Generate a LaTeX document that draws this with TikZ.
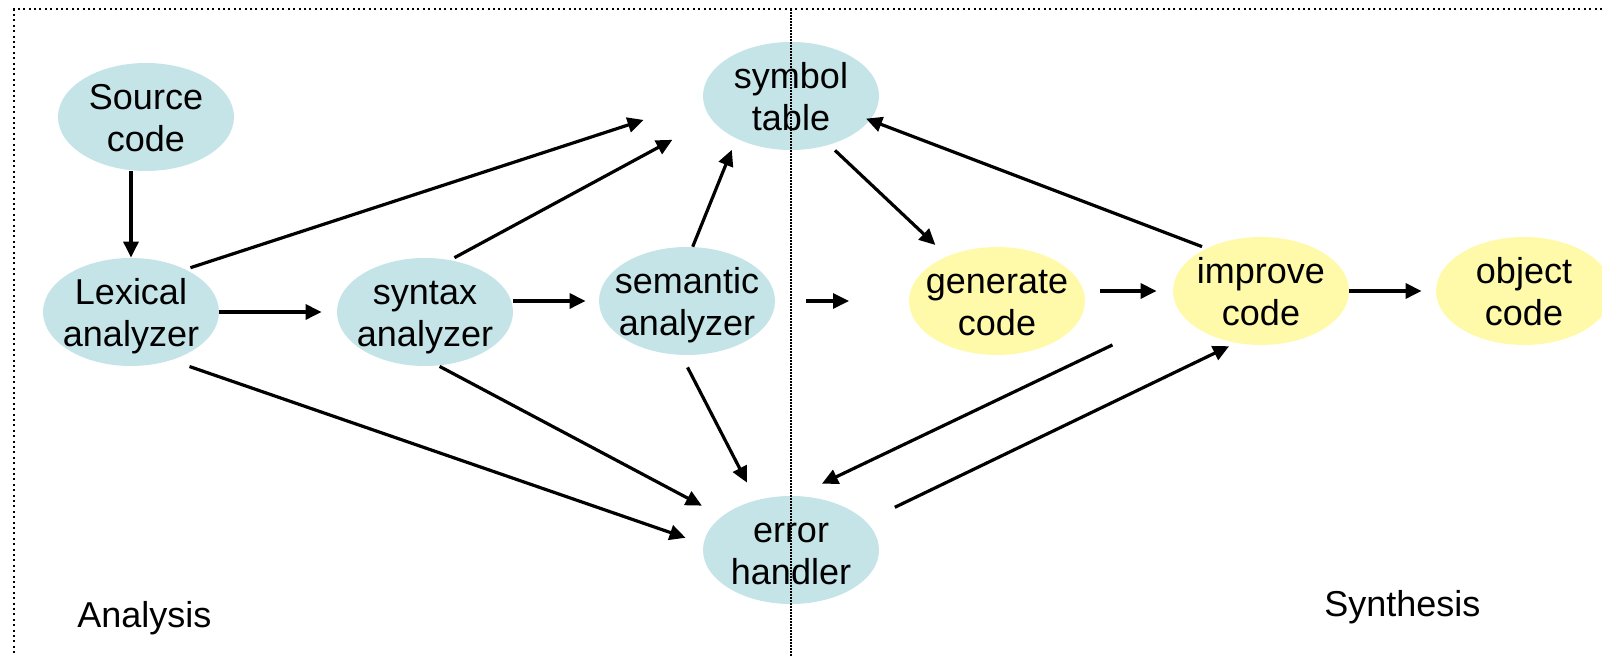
\documentclass[tikz,border=0pt]{standalone}
\usepackage{fontspec}
\setmainfont{Liberation Sans}
\usetikzlibrary{arrows.meta,shapes.geometric}
\definecolor{phaseblue}{RGB}{196,228,232}
\definecolor{phaseyellow}{RGB}{255,250,170}
% two-line label with fixed line heights, so every label sits alike
\newcommand\twoline[2]{\rule{0pt}{19pt}#1\\#2\rule[-5pt]{0pt}{5pt}}
\tikzset{
  phase/.style={ellipse, minimum width=88pt, minimum height=54pt, inner sep=-12pt,
    align=center, font=\fontsize{18}{21}\selectfont},
  front/.style={phase, fill=phaseblue},
  back/.style={phase, fill=phaseyellow},
  flow/.style={line width=1.6pt, -{Triangle[length=8pt,width=7.5pt]}},
  frame/.style={line width=1pt, dash pattern=on 1pt off 1.7pt},
  divider/.style={line width=0.9pt, dash pattern=on 1pt off 0.5pt},
  caption/.style={anchor=base west, inner sep=0pt, font=\fontsize{18}{21}\selectfont}
}
\begin{document}
\begin{tikzpicture}[x=0.5pt,y=-0.5pt]
\path[use as bounding box] (0,0) rectangle (1602,656);

% analysis phases
\node[front] (src) at (146,117) {\twoline{Source}{code}};
\node[front] (lex) at (131,312) {\twoline{Lexical}{analyzer}};
\node[front] (syn) at (425,312) {\twoline{syntax}{analyzer}};
\node[front] (sem) at (687,301) {\twoline{semantic}{analyzer}};
\node[front] (sym) at (791,96)  {\twoline{symbol}{table}};
\node[front] (err) at (791,550) {\twoline{error}{handler}};

% synthesis phases
\node[back] (gen) at (997,301) {\twoline{generate}{code}};
\node[back] (imp) at (1261,291) {\twoline{improve}{code}};
\node[back] (obj) at (1524,291) {\twoline{object}{code}};

% section captions
\node[caption] (ana) at (77,628) {Analysis};
\node[caption] (syt) at (1324,617) {Synthesis};

% main pipeline
\draw[flow] (lex.north |- src.south) -- (lex.north);
\draw[flow, shorten >=7.5pt] (lex.east) -- (syn.west);
\draw[flow, shorten >=6.5pt] (syn.east |- sem.west) -- (sem.west);
\coordinate (gapA) at (806,301);
\coordinate (gapB) at (849,301);
\draw[flow] (gapA) -- (gapB);
\draw[flow, shorten <=7.5pt, shorten >=8pt] (gen.east |- imp.west) -- (imp.west);
\draw[flow, shorten >=7pt] (imp.east) -- (obj.west);

% symbol table traffic
\draw[flow, shorten <=2.5pt, shorten >=31.2pt] (lex.38) -- (sym.183.1);
\draw[flow, shorten <=2.3pt, shorten >=21.9pt] (syn.64.3) -- (sym.196.3);
\draw[flow, shorten >=6pt] (sem.84.7) -- (sym.218.9);
\draw[flow, shorten <=3.9pt, shorten >=8.1pt] (sym.308.3) -- (gen.138.6);
\draw[flow, shorten <=2.3pt, shorten >=-2.2pt] (imp.142.2) -- (sym.343.4);

% error handler traffic
\draw[flow, shorten <=9.5pt, shorten >=9.3pt] (lex.310.6) -- (err.176.1);
\draw[flow, shorten <=0.7pt, shorten >=11.25pt] (syn.284.5) -- (err.154.2);
\draw[flow, shorten <=6.8pt, shorten >=9.8pt] (sem.264.6) -- (err.125.3);
\draw[flow, shorten <=37.4pt, shorten >=14pt] (imp.195.2) -- (err.84.1);
\draw[flow, shorten <=16pt, shorten >=3.6pt] (err.21.4) -- (imp.244.7);

% frame and the analysis/synthesis divider
\draw[frame] (1602,9) -- (14,9) -- (14,656);
\draw[divider] (791,9) -- (791,656);
\end{tikzpicture}
\end{document}
